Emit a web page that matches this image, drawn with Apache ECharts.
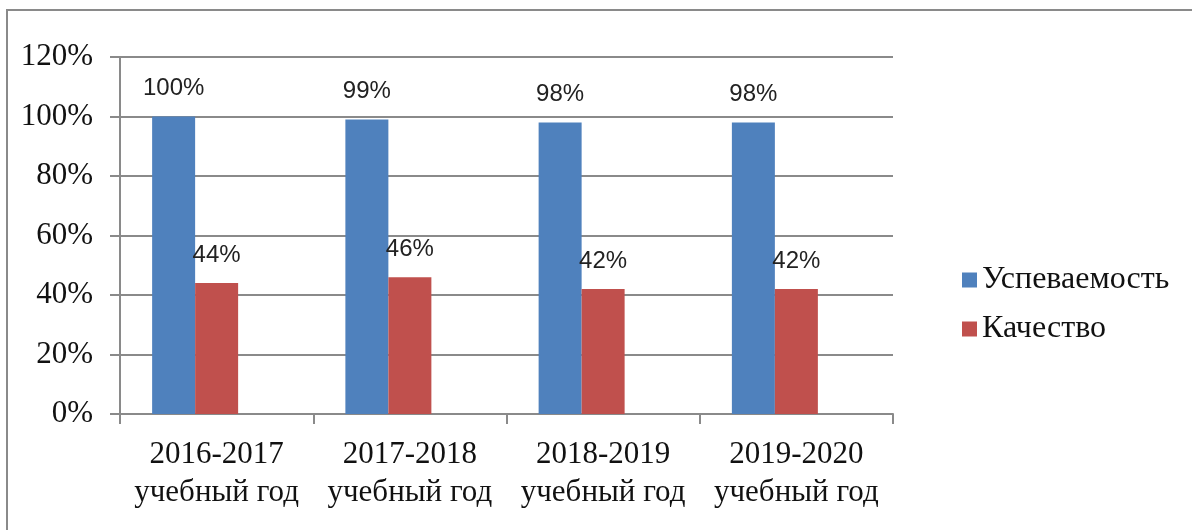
<!DOCTYPE html>
<html>
<head>
<meta charset="utf-8">
<script src="https://cdn.jsdelivr.net/npm/echarts@6/dist/echarts.min.js"></script>
<style>
  html, body { margin: 0; padding: 0; background: #fff; }
  #chart { width: 1192px; height: 530px; }
</style>
</head>
<body>
<div id="chart"></div>
<script>
// school years on x axis
var categories = ['2016-2017\nучебный год', '2017-2018\nучебный год', '2018-2019\nучебный год', '2019-2020\nучебный год']
var uspevaemost = [100, 99, 98, 98]
var kachestvo = [44, 46, 42, 42]
var yTicks = [0, 20, 40, 60, 80, 100, 120]

var serif = '"Liberation Serif", "DejaVu Serif", serif'
var gridColor = '#8a8a8a'

var chart = echarts.init(document.getElementById('chart'))

var labelStyle = {
  show: true,
  position: 'top',
  distance: 16,
  fontFamily: '"Liberation Sans", sans-serif',
  fontSize: 24,
  color: '#222',
  formatter: function (p) { return p.value + '%' }
}

chart.setOption({
  animation: false,
  graphic: [{
    type: 'rect',
    shape: { x: 7, y: 10, width: 1200, height: 540 },
    style: { fill: 'none', stroke: '#8a8a8a', lineWidth: 2 }
  }],
  grid: { left: 120, right: 299, top: 57, bottom: 116 },
  legend: {
    orient: 'vertical',
    left: 957,
    top: 259,
    icon: 'rect',
    itemWidth: 15,
    itemHeight: 15,
    itemGap: 17,
    data: ['Успеваемость', 'Качество'],
    textStyle: { fontFamily: serif, fontSize: 32, color: '#111' }
  },
  xAxis: {
    type: 'category',
    data: categories,
    axisLine: { lineStyle: { color: gridColor, width: 2 } },
    axisTick: { show: true, length: 10, lineStyle: { color: gridColor, width: 2 } },
    axisLabel: {
      interval: 0,
      margin: 22,
      fontFamily: serif,
      fontSize: 31,
      lineHeight: 38,
      color: '#111'
    }
  },
  yAxis: {
    type: 'value',
    min: yTicks[0],
    max: yTicks[yTicks.length - 1],
    interval: 20,
    axisLine: { show: true, lineStyle: { color: gridColor, width: 2 } },
    axisTick: { show: true, length: 10, lineStyle: { color: gridColor, width: 2 } },
    splitLine: { lineStyle: { color: gridColor, width: 2 } },
    axisLabel: {
      margin: 27,
      fontFamily: serif,
      fontSize: 31,
      color: '#111',
      formatter: '{value}%'
    }
  },
  series: [
    {
      name: 'Успеваемость',
      type: 'bar',
      data: uspevaemost,
      barWidth: 43,
      barGap: '0%',
      itemStyle: { color: '#4f81bd' },
      label: labelStyle
    },
    {
      name: 'Качество',
      type: 'bar',
      data: kachestvo,
      barWidth: 43,
      itemStyle: { color: '#c0504d' },
      label: labelStyle
    },
    {
      // empty third series, keeps the bar pair shifted left like the original
      name: 'empty',
      type: 'bar',
      data: [null, null, null, null],
      barWidth: 43
    }
  ]
})
</script>
</body>
</html>
